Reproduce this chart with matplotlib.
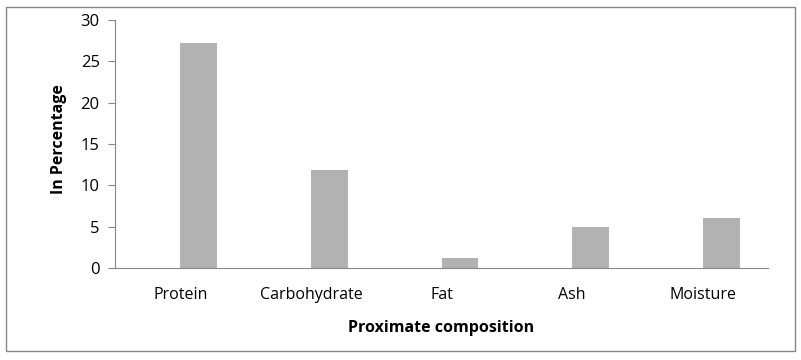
import numpy as np
import matplotlib
matplotlib.use('Agg')
from matplotlib import pyplot as plt
from matplotlib.patches import Rectangle

categories = ['Protein', 'Carbohydrate', 'Fat', 'Ash', 'Moisture']
values = [27.2, 11.9, 1.2, 4.9, 6.05]

plt.rcParams['font.family'] = ['Open Sans', 'DejaVu Sans']

fig = plt.figure(figsize=(8.01, 3.6), dpi=100)
ax = fig.add_axes([115 / 801, 1 - 268 / 360, (768 - 115) / 801, (268 - 20) / 360])

x = np.arange(len(categories))
# bars start at the category centre, like the first series of a clustered Excel chart
ax.bar(x, values, width=0.283, align='edge', color='#b2b2b2')

ax.set_xlim(-0.5, len(categories) - 0.5)
ax.set_ylim(0, 30)
ax.set_yticks([0, 5, 10, 15, 20, 25, 30])
ax.set_xticks(x)
ax.set_xticklabels(categories)

for side in ['top', 'right']:
    ax.spines[side].set_visible(False)
ax.spines['left'].set_color('#868686')
ax.spines['bottom'].set_color('#868686')
ax.tick_params(axis='y', direction='out', length=5, color='#868686', labelsize=12, pad=6)
ax.tick_params(axis='x', length=0, labelsize=11.5, pad=14)

ax.set_xlabel('Proximate composition', fontsize=11.5, fontweight='bold', labelpad=12)
ax.set_ylabel('In Percentage', fontsize=11.5, fontweight='bold')
ax.yaxis.set_label_coords(-0.0735, 0.52)

# grey border round the whole chart
fig.patches.append(Rectangle((6 / 801, 9 / 360), 789 / 801, 344 / 360,
                             transform=fig.transFigure, fill=False,
                             edgecolor='#868686', linewidth=1))

fig.savefig('out.png', dpi=100)
